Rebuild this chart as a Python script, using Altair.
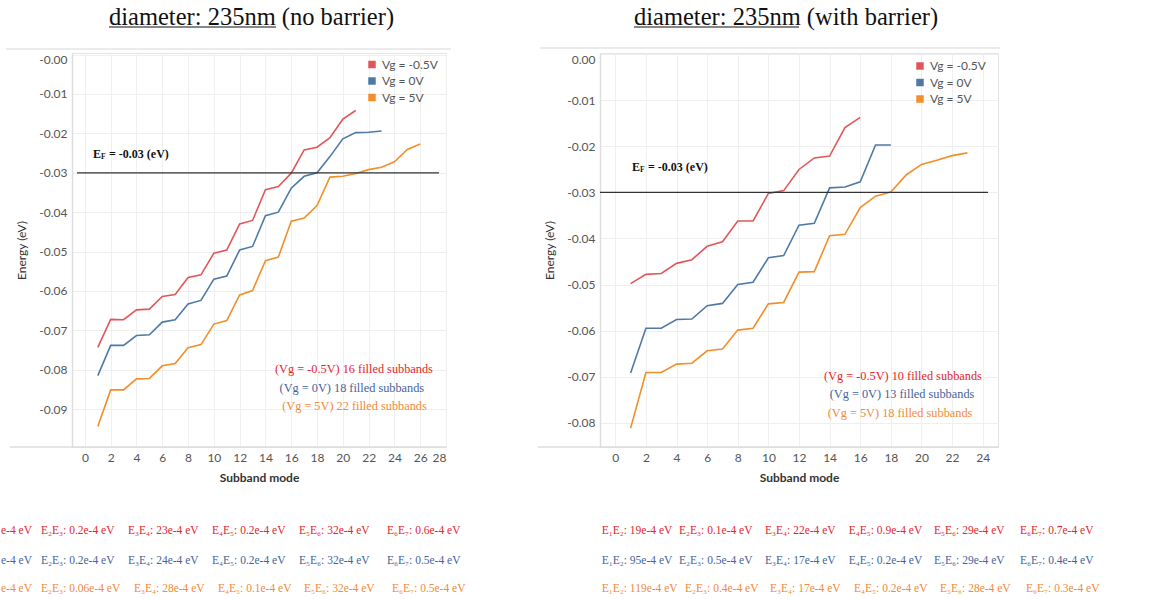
import altair as alt
import pandas as pd

# ---------------- data ----------------
series = ["Vg = -0.5V", "Vg = 0V", "Vg = 5V"]
line_colors = ["#e15759", "#4e79a7", "#f28e2b"]
text_colors = ["#e3262d", "#45639b", "#f08a3c"]

# no barrier (left)
nb_red = [-0.0743, -0.0672, -0.0673, -0.0648, -0.0646, -0.0614, -0.0609, -0.0566, -0.0559, -0.0504,
          -0.0496, -0.0430, -0.0421, -0.0343, -0.0335, -0.0301, -0.0242, -0.0235, -0.0211, -0.0164,
          -0.0142]
nb_blue = [-0.0815, -0.0738, -0.0738, -0.0713, -0.0711, -0.0679, -0.0673, -0.0633, -0.0624, -0.0570,
           -0.0562, -0.0496, -0.0487, -0.0409, -0.0400, -0.0339, -0.0309, -0.0300, -0.0259, -0.0214,
           -0.0198, -0.0197, -0.0194]
nb_orange = [-0.0944, -0.0851, -0.0851, -0.0823, -0.0822, -0.0790, -0.0784, -0.0744, -0.0736, -0.0684,
             -0.0675, -0.0610, -0.0599, -0.0523, -0.0514, -0.0423, -0.0415, -0.0383, -0.0311, -0.0309,
             -0.0302, -0.0292, -0.0286, -0.0272, -0.0241, -0.0227]

# with barrier (right)
wb_red = [-0.0498, -0.0478, -0.0476, -0.0454, -0.0446, -0.0417, -0.0407, -0.0362, -0.0362, -0.0302,
          -0.0296, -0.0250, -0.0225, -0.0221, -0.0159, -0.0137]
wb_blue = [-0.0692, -0.0595, -0.0595, -0.0576, -0.0575, -0.0546, -0.0541, -0.0500, -0.0495, -0.0442,
           -0.0437, -0.0371, -0.0367, -0.0290, -0.0288, -0.0277, -0.0197, -0.0197]
wb_orange = [-0.0812, -0.0691, -0.0691, -0.0673, -0.0671, -0.0644, -0.0640, -0.0599, -0.0595, -0.0542,
             -0.0539, -0.0473, -0.0472, -0.0394, -0.0391, -0.0333, -0.0308, -0.0299, -0.0262, -0.0239,
             -0.0230, -0.0220, -0.0214]

fermi_energy = -0.03

nb_title = ["diameter: 235nm", " (no barrier)"]
wb_title = ["diameter: 235nm", " (with barrier)"]

nb_filled = ["(Vg = -0.5V) 16 filled subbands", "(Vg = 0V) 18 filled subbands", "(Vg = 5V) 22 filled subbands"]
wb_filled = ["(Vg = -0.5V) 10 filled subbands", "(Vg = 0V) 13 filled subbands", "(Vg = 5V) 18 filled subbands"]

nb_rows = [
    ["e-4 eV", "E\u2082E\u2083: 0.2e-4 eV", "E\u2083E\u2084: 23e-4 eV", "E\u2084E\u2085: 0.2e-4 eV", "E\u2085E\u2086: 32e-4 eV", "E\u2086E\u2087: 0.6e-4 eV"],
    ["e-4 eV", "E\u2082E\u2083: 0.2e-4 eV", "E\u2083E\u2084: 24e-4 eV", "E\u2084E\u2085: 0.2e-4 eV", "E\u2085E\u2086: 32e-4 eV", "E\u2086E\u2087: 0.5e-4 eV"],
    ["e-4 eV", "E\u2082E\u2083: 0.06e-4 eV", "E\u2083E\u2084: 28e-4 eV", "E\u2084E\u2085: 0.1e-4 eV", "E\u2085E\u2086: 32e-4 eV", "E\u2086E\u2087: 0.5e-4 eV"],
]
wb_rows = [
    ["E\u2081E\u2082: 19e-4 eV", "E\u2082E\u2083: 0.1e-4 eV", "E\u2083E\u2084: 22e-4 eV", "E\u2084E\u2085: 0.9e-4 eV", "E\u2085E\u2086: 29e-4 eV", "E\u2086E\u2087: 0.7e-4 eV"],
    ["E\u2081E\u2082: 95e-4 eV", "E\u2082E\u2083: 0.5e-4 eV", "E\u2083E\u2084: 17e-4 eV", "E\u2084E\u2085: 0.2e-4 eV", "E\u2085E\u2086: 29e-4 eV", "E\u2086E\u2087: 0.4e-4 eV"],
    ["E\u2081E\u2082: 119e-4 eV", "E\u2082E\u2083: 0.4e-4 eV", "E\u2083E\u2084: 17e-4 eV", "E\u2084E\u2085: 0.2e-4 eV", "E\u2085E\u2086: 28e-4 eV", "E\u2086E\u2087: 0.3e-4 eV"],
]

# ---------------- layout (pixels, panel coordinates) ----------------
SANS = "Lato"
SERIF = "Liberation Serif, Times New Roman, serif"
ONE = alt.Data(values=[{}])
COLOR_SCALE = alt.Scale(domain=series, range=line_colors)


def build_panel(values, width, height, xmax, ydom, yticks, top_label, title, title_x, underline_w,
                legend_xy, filled, filled_pos, ef_xy, ef_line, rows, row_x, row_y, head_line,
                bottom_left, bounds_anchor):
    recs = []
    for s, vals in zip(series, values):
        for i, v in enumerate(vals):
            recs.append({"mode": i + 1, "energy": v, "series": s})
    df = pd.DataFrame(recs)

    xscale = alt.Scale(domain=[-1, xmax], nice=False, zero=False)
    yscale = alt.Scale(domain=ydom, nice=False, zero=False)

    if top_label:
        lexpr = f"datum.value == 0 ? '{top_label}' : replace(format(datum.value, '.2f'), '\u2212', '-')"
    else:
        lexpr = "replace(format(datum.value, '.2f'), '\u2212', '-')"

    x_axis = alt.Axis(values=list(range(0, xmax + 1, 2)), tickCount=(xmax + 1) // 2 + 1,
                      title="Subband mode", domain=False, ticks=False, tickSize=0, labelPadding=5,
                      labelFlush=2, labelOverlap=False, titleFontWeight="bold", titlePadding=9)
    y_axis = alt.Axis(values=yticks, title="Energy (eV)", ticks=False, tickSize=0,
                      labelPadding=5, labelFlush=5, labelExpr=lexpr, labelOverlap=False,
                      titleFontWeight="normal", titlePadding=10,
                      domainColor="#dedede", domainWidth=1.5)

    legend = alt.Legend(title=None, orient="none", legendX=legend_xy[0], legendY=legend_xy[1],
                        symbolType="square", symbolSize=56, symbolStrokeWidth=0, symbolOpacity=1,
                        labelFont=SANS, labelFontSize=12, labelColor="#555555", rowPadding=4.5,
                        padding=0, labelOffset=4, labelLimit=200)

    # filled-square legend source (its rows are filtered away, so it draws nothing)
    legend_layer = alt.Chart(df).transform_filter("false").mark_square(size=56).encode(
        color=alt.Color("series:N", scale=COLOR_SCALE, legend=legend),
    )

    lines = alt.Chart(df).mark_line(strokeWidth=1.6).encode(
        x=alt.X("mode:Q", scale=xscale, axis=x_axis),
        y=alt.Y("energy:Q", scale=yscale, axis=y_axis),
        color=alt.Color("series:N", scale=COLOR_SCALE, legend=legend),
    )

    layers = [legend_layer, lines]

    # header separator and long bottom line (Tableau style)
    layers.append(alt.Chart(ONE).mark_rule(color="#ebebeb", strokeWidth=2).encode(
        x=alt.value(head_line[0]), x2=alt.value(head_line[1]), y=alt.value(head_line[2])))
    layers.append(alt.Chart(ONE).mark_rule(color="#dedede", strokeWidth=1.5).encode(
        x=alt.value(bottom_left), x2=alt.value(width), y=alt.value(height)))

    # invisible anchor for the overall bounds
    if bounds_anchor is not None:
        layers.append(alt.Chart(ONE).mark_rule(opacity=0, strokeWidth=1).encode(
            x=alt.value(bounds_anchor[0]), x2=alt.value(bounds_anchor[0] + 20),
            y=alt.value(bounds_anchor[1])))

    # Fermi level line
    layers.append(alt.Chart(ONE).mark_rule(color="#333333", strokeWidth=1.2).encode(
        x=alt.value(ef_line[0]), x2=alt.value(ef_line[1]),
        y=alt.YDatum(fermi_energy, scale=yscale, axis=y_axis)))

    # E_F label
    ex, ey = ef_xy
    layers.append(alt.Chart(ONE).mark_text(font=SERIF, fontSize=12, fontWeight="bold", align="left",
                                           baseline="middle", color="#111111").encode(
        x=alt.value(ex), y=alt.value(ey), text=alt.value("E")))
    layers.append(alt.Chart(ONE).mark_text(font=SERIF, fontSize=7.5, fontWeight="bold", align="left",
                                           baseline="middle", color="#111111").encode(
        x=alt.value(ex + 8), y=alt.value(ey + 3), text=alt.value("F")))
    layers.append(alt.Chart(ONE).mark_text(font=SERIF, fontSize=12, fontWeight="bold", align="left",
                                           baseline="middle", color="#111111").encode(
        x=alt.value(ex + 16), y=alt.value(ey), text=alt.value("= -0.03 (eV)")))

    # filled-subbands annotation (data coordinates)
    for txt, col, (ax, ay) in zip(filled, text_colors, filled_pos):
        layers.append(alt.Chart(ONE).mark_text(font=SERIF, fontSize=12.3, align="center",
                                               baseline="middle", color=col).encode(
            x=alt.XDatum(ax, scale=xscale, axis=x_axis), y=alt.YDatum(ay, scale=yscale, axis=y_axis),
            text=alt.value(txt)))

    # title with underline
    layers.append(alt.Chart(ONE).mark_text(font=SERIF, fontSize=24.5, align="left",
                                           baseline="alphabetic", color="#111111").encode(
        x=alt.value(title_x), y=alt.value(-28), text=alt.value(title[0] + title[1])))
    layers.append(alt.Chart(ONE).mark_rule(color="#111111", strokeWidth=1.2).encode(
        x=alt.value(title_x), x2=alt.value(title_x + underline_w), y=alt.value(-26)))

    # energy-gap rows beneath the chart
    for r, (row, col) in enumerate(zip(rows, text_colors)):
        for c, txt in enumerate(row):
            layers.append(alt.Chart(ONE).mark_text(font=SERIF, fontSize=11.5, align="left",
                                                   baseline="middle", color=col).encode(
                x=alt.value(row_x[r][c]), y=alt.value(row_y[r]), text=alt.value(txt)))

    return alt.layer(*layers).properties(width=width, height=height)


left = build_panel(
    values=[nb_red, nb_blue, nb_orange], width=374, height=394, xmax=28,
    ydom=[-0.0996, 0.0004], yticks=[-0.09, -0.08, -0.07, -0.06, -0.05, -0.04, -0.03, -0.02, -0.01, 0.0],
    top_label="-0.00", title=nb_title, title_x=37, underline_w=167,
    legend_xy=(294, 5.5), filled=nb_filled,
    filled_pos=[(20.86, -0.0798), (20.7, -0.0845), (20.9, -0.0893)],
    ef_xy=(21, 101), ef_line=(5, 367), rows=nb_rows,
    row_x=[[-71, -31, 56, 140, 227, 315], [-71, -31, 56, 140, 227, 315], [-71, -31, 62, 146, 232, 320]],
    row_y=[478, 508, 536], head_line=(-66, 379, -4), bottom_left=-62, bounds_anchor=(-70.5, -52.5),
)

right = build_panel(
    values=[wb_red, wb_blue, wb_orange], width=398, height=394, xmax=25,
    ydom=[-0.0853, 0.0003], yticks=[-0.08, -0.07, -0.06, -0.05, -0.04, -0.03, -0.02, -0.01, 0.0],
    top_label=None, title=wb_title, title_x=34, underline_w=165,
    legend_xy=(314, 7), filled=wb_filled,
    filled_pos=[(18.79, -0.0699), (18.73, -0.0738), (18.6, -0.0779)],
    ef_xy=(32, 113.7), ef_line=(0, 388), rows=wb_rows,
    row_x=[[1.7, 79, 165, 248.7, 334, 420], [1.7, 79, 165, 248.7, 334, 420], [1.7, 85, 170, 254, 340, 426]],
    row_y=[478, 508, 536], head_line=(-60, 400, -5), bottom_left=-62, bounds_anchor=None,
)

chart = alt.hconcat(left, right, spacing=154, bounds="flush").resolve_legend(
    color="independent"
).properties(padding=0).configure(
    background="white"
).configure_view(
    stroke="#e4e4e4", strokeWidth=1
).configure_axis(
    labelFont=SANS, labelFontSize=12, labelColor="#555555", titleFont=SANS, titleFontSize=12,
    titleColor="#333333", gridColor="#efefef", gridWidth=1
).configure_axisX(
    tickCount=15
)

chart.save("out.html", embed_options={"renderer": "svg", "actions": False})
